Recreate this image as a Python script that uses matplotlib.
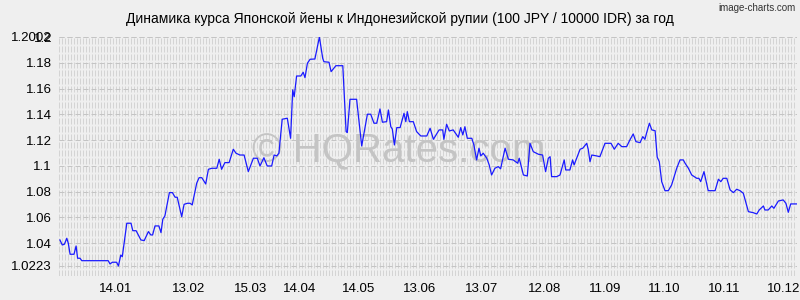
import numpy as np
import matplotlib
matplotlib.use('Agg')
import matplotlib.pyplot as plt

plt.rcParams['font.family'] = ['Liberation Sans', 'DejaVu Sans']

# position along the chart (trading-day scale) and rate (100 JPY / 10000 IDR)
day = [0.3, 1.1, 1.8, 2.6, 3.1, 3.7, 5.0, 5.7, 6.2, 7.0, 7.6, 16.4, 17.0, 17.8, 19.2, 19.8,
       20.6, 21.1, 22.6, 24.0, 24.6, 25.7, 27.3, 28.4, 29.8, 30.6, 31.2, 32.0, 33.3, 34.0,
       34.6, 35.3, 36.8, 37.8, 38.7, 39.4, 40.9, 41.7, 42.8, 43.7, 44.4, 45.9, 46.7, 47.6,
       48.9, 49.8, 50.9, 52.6, 53.4, 54.2, 55.3, 56.7, 58.1, 59.0, 60.3, 61.7, 63.1, 64.8,
       66.1, 67.0, 68.3, 69.4, 70.9, 71.7, 72.6, 73.3, 74.4, 76.1, 77.2, 77.9, 78.4, 79.2,
       80.6, 81.4, 82.0, 82.8, 83.7, 85.3, 86.8, 87.9, 88.3, 90.0, 90.7, 92.3, 94.6, 95.7,
       96.1, 97.0, 99.2, 100.9, 102.8, 103.9, 105.0, 105.9, 107.0, 107.8, 109.2, 109.8,
       110.6, 111.1, 111.8, 112.6, 113.7, 115.0, 115.6, 116.1, 116.8, 118.1, 119.2, 120.6,
       122.6, 123.7, 124.8, 126.7, 127.9, 128.3, 129.2, 130.1, 131.4, 133.1, 133.9, 134.6,
       135.3, 136.1, 137.6, 138.3, 139.2, 140.0, 140.6, 141.4, 142.6, 143.4, 144.2, 145.3,
       146.4, 147.2, 148.7, 149.8, 151.4, 152.9, 153.4, 154.8, 156.1, 157.0, 158.1, 159.8,
       161.2, 162.2, 163.1, 163.7, 164.2, 165.9, 167.0, 168.4, 168.9, 170.3, 171.2, 171.7,
       173.7, 174.6, 175.9, 176.4, 177.0, 177.6, 179.2, 180.3, 182.0, 184.0, 185.1, 186.4,
       187.6, 189.2, 190.3, 191.4, 192.3, 193.7, 194.6, 195.3, 195.9, 196.8, 197.6, 198.7,
       199.4, 200.1, 200.9, 202.0, 203.1, 204.2, 205.9, 207.0, 208.1, 208.7, 209.8, 210.9,
       212.6, 213.3, 213.9, 215.0, 216.4, 218.7, 219.8, 220.6, 221.4, 222.6, 223.7, 224.8,
       225.9, 227.0, 228.1, 229.8, 231.4, 232.6, 233.4, 234.8, 235.3, 236.4, 237.6, 238.3,
       239.8, 241.4, 242.3, 243.1, 243.9, 245.9]

rate = [1.0425, 1.0386, 1.0392, 1.0438, 1.0399, 1.0314, 1.0314, 1.0378, 1.0283, 1.0283,
        1.0264, 1.0264, 1.0239, 1.0252, 1.0252, 1.0223, 1.0308, 1.0295, 1.0555, 1.0555,
        1.0497, 1.0497, 1.0425, 1.0420, 1.0490, 1.0464, 1.0464, 1.0534, 1.0534, 1.0482,
        1.0586, 1.0612, 1.0793, 1.0793, 1.0757, 1.0757, 1.0606, 1.0702, 1.0710, 1.0710,
        1.0697, 1.0866, 1.0909, 1.0909, 1.0860, 1.0974, 1.0982, 1.0982, 1.1052, 1.0974,
        1.1026, 1.1026, 1.1130, 1.1099, 1.1085, 1.1085, 1.0956, 1.1060, 1.1060, 1.1000,
        1.1064, 1.1000, 1.1000, 1.1085, 1.1078, 1.1099, 1.1363, 1.1371, 1.1215, 1.1591,
        1.1538, 1.1699, 1.1699, 1.1728, 1.1686, 1.1798, 1.1829, 1.1831, 1.2002, 1.1837,
        1.1810, 1.1806, 1.1733, 1.1779, 1.1779, 1.1267, 1.1259, 1.1518, 1.1518, 1.1155,
        1.1402, 1.1402, 1.1332, 1.1332, 1.1443, 1.1340, 1.1344, 1.1435, 1.1305, 1.1287,
        1.1163, 1.1298, 1.1298, 1.1409, 1.1344, 1.1422, 1.1344, 1.1344, 1.1267, 1.1233,
        1.1233, 1.1293, 1.1207, 1.1280, 1.1280, 1.1207, 1.1324, 1.1272, 1.1280, 1.1223,
        1.1298, 1.1241, 1.1305, 1.1215, 1.1215, 1.1163, 1.1047, 1.1138, 1.1078, 1.1099,
        1.1060, 1.1008, 1.0930, 1.0982, 1.0995, 1.0978, 1.1138, 1.1052, 1.1047, 1.1021,
        1.1060, 1.0930, 1.0922, 1.1176, 1.1111, 1.1091, 1.1085, 1.0956, 1.1060, 1.1072,
        1.0917, 1.0917, 1.0930, 1.1047, 1.0969, 1.0969, 1.1047, 1.1008, 1.1130, 1.1138,
        1.1176, 1.1130, 1.1033, 1.1085, 1.1078, 1.1072, 1.1176, 1.1176, 1.1130, 1.1176,
        1.1150, 1.1150, 1.1202, 1.1249, 1.1189, 1.1181, 1.1228, 1.1207, 1.1259, 1.1332,
        1.1280, 1.1274, 1.1068, 1.1033, 1.0878, 1.0808, 1.0808, 1.0852, 1.0982, 1.1047,
        1.1047, 1.1021, 1.0982, 1.0930, 1.0904, 1.0904, 1.0878, 1.0956, 1.0808, 1.0808,
        1.0897, 1.0878, 1.0904, 1.0904, 1.0814, 1.0793, 1.0819, 1.0808, 1.0788, 1.0645,
        1.0637, 1.0627, 1.0658, 1.0689, 1.0658, 1.0658, 1.0689, 1.0671, 1.0728, 1.0736,
        1.0710, 1.0640, 1.0705, 1.0705]

tick_pos = [19, 43.3, 63.7, 80.3, 100, 120.3, 140.7, 162, 182, 201.7, 221.7, 241.7]
tick_lab = ['14.01', '13.02', '15.03', '14.04', '14.05', '13.06', '13.07', '12.08',
            '11.09', '11.10', '10.11', '10.12']
ytick_val = [1.0223, 1.04, 1.06, 1.08, 1.1, 1.12, 1.14, 1.16, 1.18, 1.2, 1.2002]
ytick_lab = ['1.0223', '1.04', '1.06', '1.08', '1.1', '1.12', '1.14', '1.16', '1.18',
             '1.2', '1.2002']

bg = '#efefef'
fig = plt.figure(figsize=(8, 3), dpi=100, facecolor=bg)
ax = fig.add_axes([59 / 800, 24 / 300, 738 / 800, 239 / 300], facecolor=bg)

ax.set_xlim(0, 246)
ax.set_ylim(1.0145, 1.2002)

# dense dashed vertical grid, one line per day
ax.vlines(np.arange(0, 247), 1.0145, 1.2002, colors='#d4d4d4', linewidth=0.72,
          linestyles=(0, (6, 2)), zorder=1)
# horizontal grid at the y ticks
for v in ytick_val:
    ax.axhline(v, color='#c4c4c4', linewidth=0.72, linestyle=(0, (5, 3)), zorder=1)

ax.text(0.46, 0.52, '© HQRates.com', transform=ax.transAxes, fontsize=29,
        color='#c4c4c4', ha='center', va='center', zorder=2)

ax.plot(day, rate, color='#1a1aff', linewidth=0.9, zorder=3)

for s in ax.spines.values():
    s.set_visible(False)
ax.set_xticks(tick_pos)
ax.set_xticklabels(tick_lab, fontsize=9.5)
ax.set_yticks(ytick_val)
ax.set_yticklabels(ytick_lab, fontsize=9.5)
ax.tick_params(length=0, pad=5)

fig.text(0.5, 0.935, 'Динамика курса Японской йены к Индонезийской рупии (100 JPY / 10000 IDR) за год',
         ha='center', va='center', fontsize=10)
fig.text(0.994, 0.972, 'image-charts.com', ha='right', va='center', fontsize=7,
         color='#333333')

fig.savefig('out.png', dpi=100, facecolor=bg)
